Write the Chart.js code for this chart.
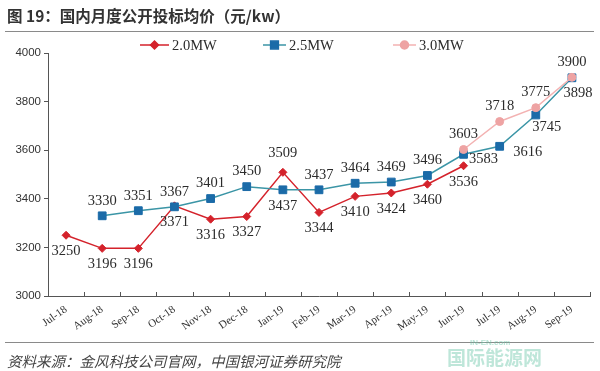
<!DOCTYPE html>
<html><head><meta charset="utf-8">
<script src="https://cdn.jsdelivr.net/npm/chart.js@4.4.1/dist/chart.umd.min.js"></script>
<style>
html,body{margin:0;padding:0;background:#fff;width:600px;height:371px;overflow:hidden;position:relative}
#c{position:absolute;left:0;top:0}
#title{position:absolute;left:7px;top:4px;font:bold 15.5px "Noto Sans CJK SC";color:#333;white-space:nowrap;line-height:22px}
.rule{position:absolute;left:5px;width:589px;height:0;border-top:1.5px solid #8a8a8a}
#src{position:absolute;left:7px;top:350px;font:italic 14.5px "Noto Sans CJK SC";color:#444;white-space:nowrap;line-height:21px}
#wm{position:absolute;left:447px;top:346px;font:bold 19px "Noto Sans CJK SC";color:rgba(110,200,170,0.45);white-space:nowrap;line-height:22px}
#wm2{position:absolute;left:470px;top:338px;font:bold 8px "Liberation Sans";color:rgba(110,200,170,0.5)}
</style></head><body>
<canvas id="c" width="600" height="371"></canvas>
<div id="title">图 19：国内月度公开投标均价（元/kw）</div>
<div class="rule" style="top:31px"></div>
<div class="rule" style="top:342px"></div>
<div id="src">资料来源：金风科技公司官网，中国银河证券研究院</div>
<div id="wm2">IN-EN.com</div>
<div id="wm">国际能源网</div>
<script>
const categories = ['Jul-18','Aug-18','Sep-18','Oct-18','Nov-18','Dec-18','Jan-19','Feb-19','Mar-19','Apr-19','May-19','Jun-19','Jul-19','Aug-19','Sep-19'];
const series20 = [3250,3196,3196,3371,3316,3327,3509,3344,3410,3424,3460,3536,null,null,null];
const series25 = [null,3330,3351,3367,3401,3450,3437,3437,3464,3469,3496,3583,3616,3745,3898];
const series30 = [null,null,null,null,null,null,null,null,null,null,null,3603,3718,3775,3900];
const seriesNames = ['2.0MW','2.5MW','3.0MW'];
const yTicks = [3000,3200,3400,3600,3800,4000];

// label placement codes (a=above, b=below, r=right ...)
const place20 = ['b','b','b','b','b','b','aa','b','b','b','b','b',null,null,null];
const place25 = [null,'a','a','a','a','a','b','a','a','a','a','r','rr','br','br2'];
const place30 = [null,null,null,null,null,null,null,null,null,null,null,'a','a','a','a'];
const offsets = {a:[0,-15], aa:[0,-19], b:[0,16], r:[20,5], rr:[28,6], br:[11,12], br2:[6,15]};

const colors = {
  red:'#d4222b', teal:'#3b95a6', blue:'#1b6ba8', pinkLine:'#f3b2b2', pink:'#eea3a3'
};

const labelPlugin = {
  id:'dlabels',
  afterDatasetsDraw(chart){
    const ctx = chart.ctx;
    const places = [place20, place25, place30];
    ctx.save();
    ctx.font = '14.5px "Liberation Serif"';
    ctx.fillStyle = '#2b2b2b';
    ctx.textAlign = 'center';
    ctx.textBaseline = 'middle';
    chart.data.datasets.forEach((ds, di) => {
      const meta = chart.getDatasetMeta(di);
      ds.data.forEach((v, i) => {
        if (v === null || !places[di][i]) return;
        const p = meta.data[i];
        const o = offsets[places[di][i]];
        ctx.fillText(String(v), p.x + o[0], p.y + o[1]);
      });
    });
    ctx.restore();
  }
};

const xTickPlugin = {
  id:'xticks',
  afterDraw(chart){
    const sc = chart.scales.x;
    const ctx = chart.ctx;
    const n = sc.ticks.length;
    const step = sc.getPixelForTick(1) - sc.getPixelForTick(0);
    const y = chart.chartArea.bottom;
    ctx.save();
    ctx.strokeStyle = '#555';
    ctx.lineWidth = 1;
    for (let i = 0; i <= n; i++) {
      const x = Math.round(sc.getPixelForTick(0) - step/2 + i*step) + 0.5;
      ctx.beginPath(); ctx.moveTo(x, y); ctx.lineTo(x, y - 4); ctx.stroke();
    }
    ctx.restore();
  }
};

const legendItems = [[140,29],[263,23],[393,23]];
const legendPlugin = {
  id:'mylegend',
  afterDraw(chart){
    const ctx = chart.ctx;
    const y = 45;
    ctx.save();
    chart.data.datasets.forEach((ds, di) => {
      const [x0, w] = legendItems[di];
      ctx.strokeStyle = ds.borderColor;
      ctx.lineWidth = 1.5;
      ctx.beginPath(); ctx.moveTo(x0, y); ctx.lineTo(x0 + w, y); ctx.stroke();
      ctx.fillStyle = ds.pointBackgroundColor;
      ctx.strokeStyle = ds.pointBorderColor;
      Chart.helpers.drawPoint(ctx, {pointStyle: ds.pointStyle, radius: ds.pointRadius, rotation: 0, borderWidth: 1}, x0 + w/2, y);
      ctx.fillStyle = '#2b2b2b';
      ctx.font = '14.5px "Liberation Serif"';
      ctx.textAlign = 'left';
      ctx.textBaseline = 'middle';
      ctx.fillText(seriesNames[di], x0 + w + 3, y + 1);
    });
    ctx.restore();
  }
};

new Chart(document.getElementById('c'), {
  type:'line',
  data:{
    labels: categories,
    datasets:[
      {label:seriesNames[0], data:series20, order:2, borderColor:colors.red, borderWidth:1.5,
       pointStyle:'rectRot', pointRadius:4, pointBackgroundColor:colors.red, pointBorderColor:colors.red, pointBorderWidth:1, tension:0},
      {label:seriesNames[1], data:series25, order:1, borderColor:colors.teal, borderWidth:1.5,
       pointStyle:'rect', pointRadius:5.5, pointBackgroundColor:colors.blue, pointBorderColor:colors.blue, pointBorderWidth:1, tension:0},
      {label:seriesNames[2], data:series30, order:0, borderColor:colors.pinkLine, borderWidth:1.5,
       pointStyle:'circle', pointRadius:4, pointBackgroundColor:colors.pink, pointBorderColor:colors.pink, pointBorderWidth:1, tension:0}
    ]
  },
  options:{
    responsive:false, animation:false, devicePixelRatio:1,
    layout:{padding:{top:53, right:10, bottom:31, left:0}},
    plugins:{legend:{display:false}, tooltip:{enabled:false}, title:{display:false}},
    scales:{
      x:{
        type:'category', offset:true,
        grid:{offset:true, drawOnChartArea:false, drawTicks:false},
        border:{display:true, color:'#555', width:1},
        ticks:{autoSkip:false, minRotation:35, maxRotation:35, padding:7,
          font:{family:'Liberation Serif', size:11}, color:'#333'},
        afterFit(s){ s.height = 44; }
      },
      y:{
        min:3000, max:4000,
        afterBuildTicks(s){ s.ticks = yTicks.map(v => ({value:v})); },
        grid:{drawOnChartArea:false, drawTicks:true, tickLength:4, color:'#555'},
        border:{display:true, color:'#555', width:1},
        ticks:{padding:3, font:{family:'Liberation Sans', size:11.5}, color:'#333',
          callback:(v) => String(v)},
        afterFit(s){ s.width = 48; }
      }
    }
  },
  plugins:[labelPlugin, xTickPlugin, legendPlugin]
});
</script>
</body></html>
